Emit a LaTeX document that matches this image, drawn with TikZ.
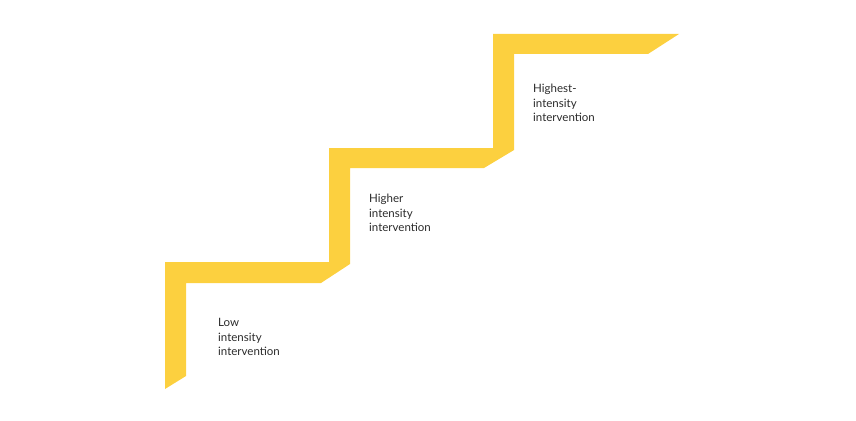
\documentclass[tikz,border=0pt]{standalone}
\usepackage{fontspec}
\setmainfont{Lato}
\definecolor{stairyellow}{HTML}{FCD03F}
\definecolor{labelgray}{HTML}{2B2B2B}
\begin{document}
\begin{tikzpicture}[x=1pt,y=-1pt,
    steplabel/.style={anchor=west, align=left, font=\fontsize{11.5}{14.5}\selectfont, text=labelgray, inner sep=0pt}]
    \useasboundingbox (0,0) rectangle (856,420);

    % The staircase
    \fill[stairyellow] (165,389) -- (165,262) -- (329,262) -- (329,148) -- (493,148) -- (493,34)
      -- (679,34) -- (648,54) -- (514,54) -- (514,150) -- (484,168) -- (350,168) -- (350,264)
      -- (321,283) -- (186,283) -- (186,376) -- cycle;

    % Labels on each step
    \node[steplabel] (low) at (218,337) {Low\\intensity\\intervention};
    \node[steplabel] (higher) at (369,213) {Higher\\intensity\\intervention};
    \node[steplabel] (highest) at (533,103) {Highest-\\intensity\\intervention};
\end{tikzpicture}
\end{document}
